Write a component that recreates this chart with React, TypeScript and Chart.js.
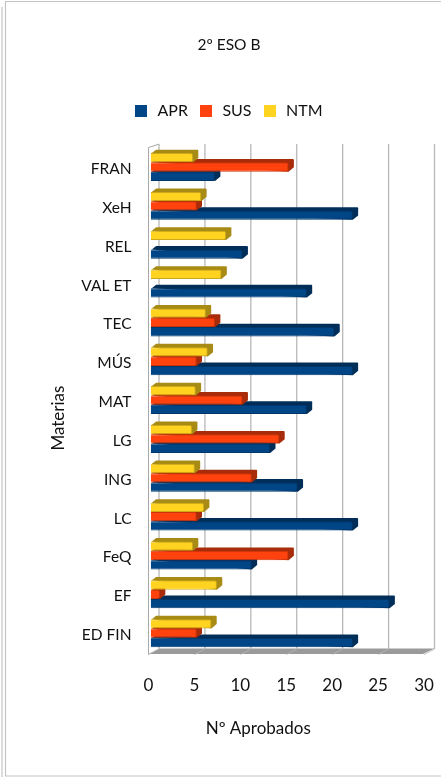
import React, { useEffect, useRef } from "react";
import { Chart, registerables } from "chart.js";

Chart.register(...registerables);

const chartTitle = "2º ESO B";
const xTitle = "Nº Aprobados";
const yTitle = "Materias";
const categories = ["FRAN", "XeH", "REL", "VAL ET", "TEC", "MÚS", "MAT", "LG", "ING", "LC", "FeQ", "EF", "ED FIN"];
const apr = [7, 22, 10, 17, 20, 22, 17, 13, 16, 22, 11, 26, 22];
const sus = [15, 5, null, null, 7, 5, 10, 14, 11, 5, 15, 1, 5];
const ntm = [4.6, 5.5, 8.2, 7.7, 6, 6.2, 4.9, 4.5, 4.8, 5.8, 4.6, 7.2, 6.6];

const FONT = "Lato, Carlito, sans-serif";
const DEPTH_X = 5.3;
const DEPTH_Y = 3.4;
const WALL_X = 10.5;
const WALL_Y = 5.5;

const shade = (hex: string, f: number) => {
  const n = parseInt(hex.slice(1), 16);
  const c = [(n >> 16) & 255, (n >> 8) & 255, n & 255].map((v) => Math.round(v * f));
  return `rgb(${c[0]},${c[1]},${c[2]})`;
};

const legendSwatch = (color: string) => {
  const c = document.createElement("canvas");
  c.width = 12;
  c.height = 12;
  const g = c.getContext("2d")!;
  g.fillStyle = color;
  g.fillRect(0, 0, 12, 12);
  return c;
};

const shiftTitle = (s: any, dx: number, dy: number) => {
  if (s.__shifted) return;
  s.__shifted = true;
  const d = s.drawTitle;
  s.drawTitle = function (...args: any[]) {
    this.ctx.save();
    this.ctx.translate(dx, dy);
    d.apply(this, args);
    this.ctx.restore();
  };
};

const scene3d = {
  id: "scene3d",
  beforeLayout(chart: any) {
    const legend = chart.legend;
    if (legend && !legend.__grown) {
      legend.__grown = true;
      const fit = legend.fit;
      legend.fit = function () {
        fit.call(this);
        this.height += 20.5;
      };
      const draw = legend.draw;
      legend.draw = function () {
        this.ctx.save();
        this.ctx.translate(-1.5, 0);
        draw.call(this);
        this.ctx.restore();
      };
    }
  },
  beforeDraw(chart: any) {
    const { ctx, width, height } = chart;
    ctx.save();
    ctx.fillStyle = "#ffffff";
    ctx.fillRect(0, 0, width, height);
    ctx.strokeStyle = "#c4c4c4";
    ctx.lineWidth = 1.2;
    ctx.beginPath();
    ctx.moveTo(width, 1.5);
    ctx.lineTo(5.5, 1.5);
    ctx.lineTo(5.5, 776);
    ctx.lineTo(width, 776);
    ctx.moveTo(2, 7);
    ctx.lineTo(2, height);
    ctx.stroke();
    ctx.restore();
  },
  beforeDatasetsDraw(chart: any) {
    const { ctx, chartArea: a, scales } = chart;
    const x = scales.x;
    ctx.save();
    // floor
    ctx.fillStyle = "#9a9a9a";
    ctx.beginPath();
    ctx.moveTo(a.left, a.bottom - 0.5);
    ctx.lineTo(a.right - 1, a.bottom - 0.5);
    ctx.lineTo(a.right + WALL_X, a.bottom - WALL_Y - 0.5);
    ctx.lineTo(a.left + WALL_X, a.bottom - WALL_Y - 0.5);
    ctx.closePath();
    ctx.fill();
    // back wall gridlines and their floor continuation
    (x.ticks as any[]).forEach((t) => {
      const px = x.getPixelForValue(t.value);
      ctx.strokeStyle = "#b8b8b8";
      ctx.lineWidth = 1.3;
      ctx.beginPath();
      ctx.moveTo(px + WALL_X, a.top - WALL_Y);
      ctx.lineTo(px + WALL_X, a.bottom - WALL_Y);
      ctx.stroke();
      ctx.lineWidth = 0.8;
      ctx.beginPath();
      ctx.moveTo(px + WALL_X, a.bottom - WALL_Y);
      ctx.lineTo(px, a.bottom);
      ctx.stroke();
    });
    // side wall outline
    ctx.lineWidth = 1;
    ctx.strokeStyle = "#a8a8a8";
    ctx.beginPath();
    ctx.moveTo(a.left + WALL_X, a.top - WALL_Y);
    ctx.lineTo(a.left, a.top - 2);
    ctx.lineTo(a.left, a.bottom);
    ctx.stroke();
    ctx.restore();

    ctx.save();
    ctx.translate(2.3, -2);
  },
  beforeDatasetDraw(chart: any, args: any) {
    const { ctx } = chart;
    const ds = chart.data.datasets[args.index];
    args.meta.data.forEach((el: any, i: number) => {
      if (ds.data[i] == null) return;
      const { x: ex, y, height, base } = el.getProps(["x", "y", "height", "base"], true);
      const t = y - height / 2;
      const b = y + height / 2;
      ctx.fillStyle = shade(ds.backgroundColor, 0.66);
      ctx.beginPath();
      ctx.moveTo(base + 1, t);
      ctx.lineTo(base + DEPTH_X, t - DEPTH_Y);
      ctx.lineTo(ex + DEPTH_X - 0.5, t - DEPTH_Y);
      ctx.lineTo(ex + DEPTH_X, t - DEPTH_Y + 1);
      ctx.lineTo(ex + DEPTH_X, b - DEPTH_Y - 1);
      ctx.lineTo(ex, b);
      ctx.closePath();
      ctx.fill();
    });
  },
  afterDatasetsDraw(chart: any) {
    chart.ctx.restore();
  },
};

export default function App() {
  const ref = useRef<HTMLCanvasElement>(null);
  useEffect(() => {
    const colors = ["#004586", "#ff420e", "#ffd320"];
    const chart = new Chart(ref.current!, {
      type: "bar",
      plugins: [scene3d],
      data: {
        labels: categories,
        datasets: [
          { label: "APR", data: apr, order: 3 },
          { label: "SUS", data: sus, order: 2 },
          { label: "NTM", data: ntm, order: 1 },
        ].map((d, i) => ({
          ...d,
          backgroundColor: colors[i],
          borderColor: shade(colors[i], 0.8),
          borderWidth: 1,
          borderRadius: 2,
          barPercentage: 1,
          categoryPercentage: 0.72,
          clip: false as any,
        })),
      },
      options: {
        indexAxis: "y",
        animation: false,
        responsive: false,
        layout: { padding: { left: 34, right: 17, top: 0, bottom: 0 } },
        plugins: {
          tooltip: { enabled: false },
          title: {
            display: true,
            text: chartTitle,
            color: "#111111",
            font: { family: FONT, size: 15.5, weight: "normal" },
            padding: { top: 36, bottom: 39 },
          },
          legend: {
            position: "top",
            labels: {
              color: "#111111",
              font: { family: FONT, size: 16 },
              usePointStyle: true,
              pointStyleWidth: 17,
              padding: 9.5,
              generateLabels: () =>
                ["APR", "SUS", "NTM"].map((text, i) => ({
                  text,
                  datasetIndex: i,
                  fillStyle: colors[i],
                  strokeStyle: colors[i],
                  lineWidth: 0,
                  fontColor: "#111111",
                  hidden: false,
                  pointStyle: legendSwatch(colors[i]),
                })),
            },
          },
        },
        scales: {
          x: {
            min: 0,
            max: 30,
            ticks: { stepSize: 5, padding: 13, color: "#111111", font: { family: FONT, size: 17 }, maxRotation: 0 },
            grid: { display: false },
            border: { display: false },
            title: { display: true, text: xTitle, color: "#111111", font: { family: FONT, size: 17 }, padding: { top: 6, bottom: 38 } },
            afterFit: (s: any) => {
              s.height = 122.4;
              s.paddingRight = 0;
              s.paddingLeft = 0;
              shiftTitle(s, -28, 0);
            },
          },
          y: {
            ticks: { padding: 9, color: "#111111", font: { family: FONT, size: 15.5 }, autoSkip: false },
            grid: { display: false },
            border: { display: false },
            title: { display: true, text: yTitle, color: "#111111", font: { family: FONT, size: 17 }, padding: { top: 14, bottom: 0 } },
            afterFit: (s: any) => {
              s.width = 114.5;
              s.paddingTop = 0;
              s.paddingBottom = 0;
              shiftTitle(s, 0, 16);
            },
          },
        },
      },
    } as any);
    return () => chart.destroy();
  }, []);
  return (
    <div style={{ position: "absolute", left: 0, top: 0, width: 441, height: 777 }}>
      <canvas ref={ref} width={441} height={777} style={{ display: "block" }} />
    </div>
  );
}
